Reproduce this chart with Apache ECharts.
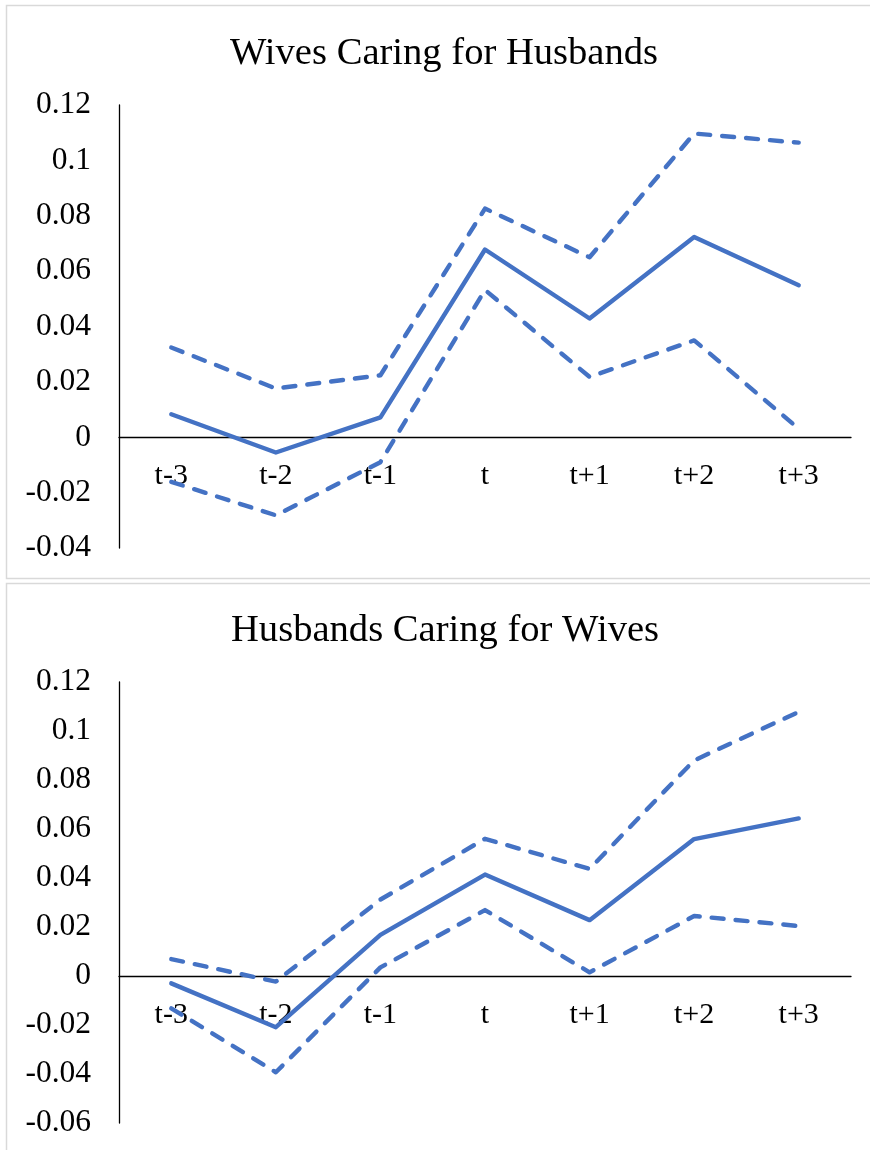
<!DOCTYPE html>
<html>
<head>
<meta charset="utf-8">
<script src="https://cdn.jsdelivr.net/npm/echarts@6/dist/echarts.min.js"></script>
<style>
html,body{margin:0;padding:0;background:#fff;}
#chart{width:870px;height:1150px;}
</style>
</head>
<body>
<div id="chart"></div>
<script>
const categories = ['t-3','t-2','t-1','t','t+1','t+2','t+3'];
const titles = ['Wives Caring for Husbands', 'Husbands Caring for Wives'];
const wivesEst   = [0.0083, -0.0055, 0.0072, 0.0678, 0.0429, 0.0723, 0.0549];
const wivesUpper = [0.0324, 0.0176, 0.0224, 0.0826, 0.0650, 0.1097, 0.1064];
const wivesLower = [-0.0161, -0.0282, -0.0090, 0.0532, 0.0218, 0.0350, 0.0031];
const husbEst    = [-0.0030, -0.0209, 0.0168, 0.0414, 0.0228, 0.0559, 0.0643];
const husbUpper  = [0.0069, -0.0023, 0.0312, 0.0560, 0.0437, 0.0880, 0.1078];
const husbLower  = [-0.0132, -0.0393, 0.0035, 0.0269, 0.0015, 0.0245, 0.0204];
const yMin = [-0.04, -0.06];
const yMax = [0.12, 0.12];
const yStep = 0.02;

const FONT = 'Liberation Serif';
const BLUE = '#4472C4';
const chart = echarts.init(document.getElementById('chart'), null, {renderer: 'canvas'});

function fmt(v){
  const r = Math.round(v * 1000) / 1000;
  return String(r);
}

function lineSeries(data, idx, dashed){
  return {
    type: 'line', xAxisIndex: idx, yAxisIndex: idx, data: data,
    symbol: 'none', silent: true, z: 3,
    lineStyle: dashed
      ? {color: BLUE, width: 4.4, type: [12, 12], cap: 'round', join: 'round'}
      : {color: BLUE, width: 4.4, type: 'solid', cap: 'round', join: 'round'}
  };
}

const grids = [
  {left: 119, right: 19, top: 105, height: 443},
  {left: 119, right: 19, top: 682, height: 441}
];

// place the category axis (line + labels) at the value 0 of each panel
function zeroOffset(i){
  return -grids[i].height * (0 - yMin[i]) / (yMax[i] - yMin[i]);
}

const titleStyle = {fontFamily: FONT, fontSize: 38.6, fontWeight: 'normal', color: '#000'};

const option = {
  animation: false,
  backgroundColor: '#fff',
  title: [
    {text: titles[0], left: 230, top: 34, padding: 0, textStyle: titleStyle},
    {text: titles[1], left: 231, top: 611, padding: 0, textStyle: titleStyle}
  ],
  graphic: [
    {type: 'rect', shape: {x: 6.5, y: 5.5, width: 900, height: 573}, style: {fill: 'none', stroke: '#d9d9d9', lineWidth: 1.5}, silent: true, z: -1},
    {type: 'rect', shape: {x: 6.5, y: 583.5, width: 900, height: 600}, style: {fill: 'none', stroke: '#d9d9d9', lineWidth: 1.5}, silent: true, z: -1}
  ],
  grid: grids,
  xAxis: [0, 1].map(i => ({
    type: 'category', gridIndex: i, data: categories, boundaryGap: true,
    position: 'bottom', offset: zeroOffset(i),
    axisLine: {show: true, onZero: false, lineStyle: {color: '#000', width: 1.3}},
    axisTick: {show: false},
    splitLine: {show: false},
    axisLabel: {fontFamily: FONT, fontSize: 30, color: '#000', margin: 24}
  })),
  yAxis: [0, 1].map(i => ({
    type: 'value', gridIndex: i, min: yMin[i], max: yMax[i], interval: yStep,
    axisLine: {show: true, lineStyle: {color: '#000', width: 1.3}},
    axisTick: {show: false},
    splitLine: {show: false},
    axisLabel: {fontFamily: FONT, fontSize: 31.5, color: '#000', margin: 28, formatter: fmt}
  })),
  series: [
    lineSeries(wivesUpper, 0, true),
    lineSeries(wivesEst, 0, false),
    lineSeries(wivesLower, 0, true),
    lineSeries(husbUpper, 1, true),
    lineSeries(husbEst, 1, false),
    lineSeries(husbLower, 1, true)
  ]
};
chart.setOption(option);
</script>
</body>
</html>
